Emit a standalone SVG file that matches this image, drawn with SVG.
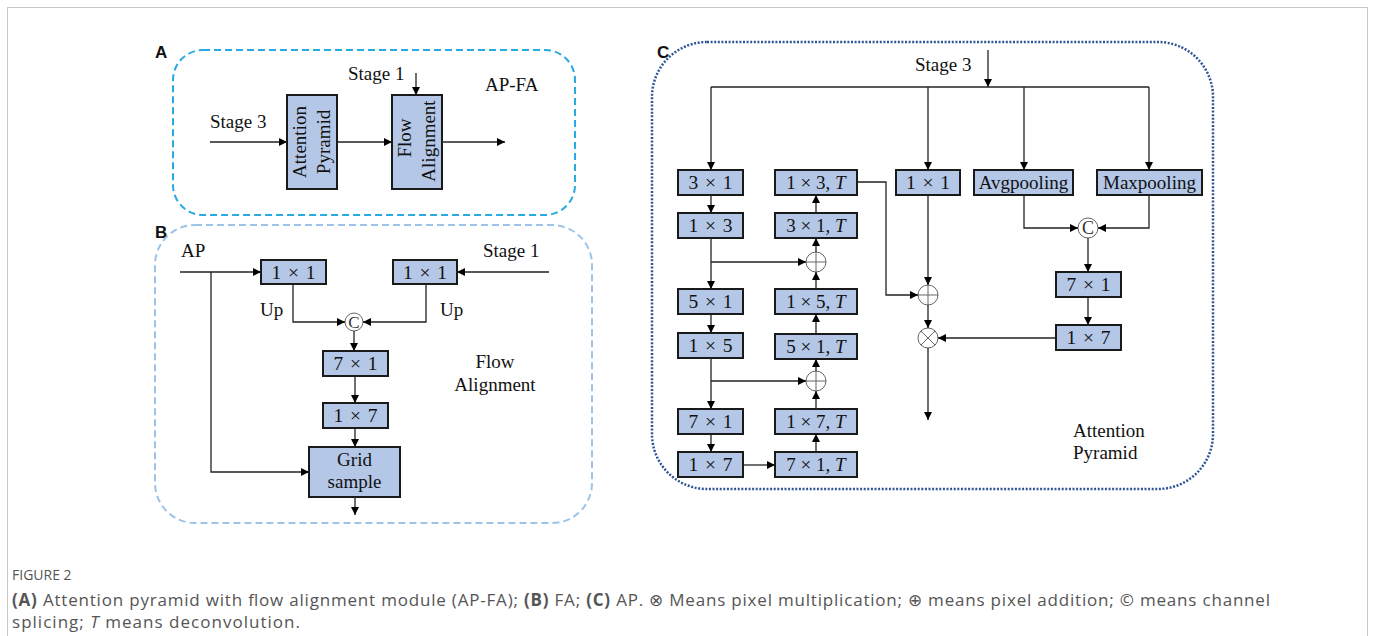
<svg xmlns="http://www.w3.org/2000/svg" width="1375" height="636" viewBox="0 0 1375 636">
<defs>
<marker id="ah" viewBox="0 0 10 10" refX="10" refY="5" markerWidth="9" markerHeight="8" markerUnits="userSpaceOnUse" orient="auto"><path d="M0,0L10,5L0,10z" fill="#000"/></marker>
<style>
.box{fill:#b4c7e7;stroke:#1a1a1a;stroke-width:2}
.ln{fill:none;stroke:#222;stroke-width:1.3}
.ar{fill:none;stroke:#222;stroke-width:1.3;marker-end:url(#ah)}
.t{font-family:"Liberation Serif",serif;font-size:19px;fill:#111}
.bt{font-family:"Liberation Serif",serif;font-size:19.5px;word-spacing:2px;fill:#111;text-anchor:middle}
.tt{font-family:"Liberation Serif",serif;font-size:19px;fill:#111;text-anchor:middle}
.op{fill:#fff;stroke:#666;stroke-width:1}
.lab{font-family:"Liberation Sans",Arial,sans-serif;font-weight:bold;font-size:17px;fill:#111}
.cap{font-family:"Open Sans",sans-serif;fill:#555}
</style>
</defs>
<rect x="0" y="0" width="1375" height="636" fill="#fff"/>
<rect x="7.5" y="7.5" width="1360" height="660" fill="none" stroke="#c8c8c8" stroke-width="1"/>

<!-- Panel A -->
<g id="panelA">
<text class="lab" x="155" y="58">A</text>
<rect x="173" y="50" width="402" height="165" rx="30" fill="none" stroke="#27a9e1" stroke-width="2" stroke-dasharray="7 4"/>
<text class="t" x="210" y="128">Stage 3</text>
<text class="t" x="348" y="80">Stage 1</text>
<text class="t" x="485" y="91">AP-FA</text>
</g>
<g id="A_attention_pyramid">
<rect class="box" x="287" y="95" width="50" height="94"/>
<text class="t" text-anchor="middle" transform="translate(306,142) rotate(-90)">Attention</text>
<text class="t" text-anchor="middle" transform="translate(330,142) rotate(-90)">Pyramid</text>
</g>
<g id="A_flow_alignment">
<rect class="box" x="392" y="95" width="50" height="94"/>
<text class="t" text-anchor="middle" transform="translate(411,138) rotate(-90)">Flow</text>
<text class="t" text-anchor="middle" transform="translate(435,141) rotate(-90)">Alignment</text>
</g>

<!-- Panel B -->
<g id="panelB">
<text class="lab" x="155" y="238">B</text>
<rect x="155" y="225" width="437" height="298" rx="40" fill="none" stroke="#9dc3e6" stroke-width="2" stroke-dasharray="7 4"/>
<text class="t" x="181" y="257">AP</text>
<text class="t" x="483" y="257">Stage 1</text>
<text class="t" x="260" y="316">Up</text>
<text class="t" x="440" y="316">Up</text>
<text class="t" x="495" y="368" text-anchor="middle">Flow</text>
<text class="t" x="495" y="391" text-anchor="middle">Alignment</text>
</g>
<g id="B_conv1x1_left"><rect class="box" x="261" y="260" width="65" height="24"/><text class="bt" x="293.5" y="279">1 × 1</text></g>
<g id="B_conv1x1_right"><rect class="box" x="393" y="260" width="64" height="24"/><text class="bt" x="425" y="279">1 × 1</text></g>
<g id="B_concat"><circle class="op" cx="354" cy="322" r="9"/><text x="354" y="328" text-anchor="middle" font-family="Liberation Serif,serif" font-size="17" fill="#333">C</text></g>
<g id="B_conv7x1"><rect class="box" x="323" y="351" width="65" height="25"/><text class="bt" x="355.5" y="370">7 × 1</text></g>
<g id="B_conv1x7"><rect class="box" x="323" y="403" width="65" height="25"/><text class="bt" x="355.5" y="422">1 × 7</text></g>
<g id="B_grid_sample"><rect class="box" x="309" y="447" width="91" height="50"/><text class="t" x="354.5" y="466" text-anchor="middle">Grid</text><text class="t" x="354.5" y="488" text-anchor="middle">sample</text></g>

<!-- Panel C -->
<g id="panelC">
<text class="lab" x="657" y="58">C</text>
<rect x="652" y="42" width="561" height="447" rx="55" fill="none" stroke="#2f5597" stroke-width="2.5" stroke-dasharray="2 1.6"/>
<text class="t" x="915" y="71">Stage 3</text>
<text class="t" x="1073" y="437">Attention</text>
<text class="t" x="1073" y="459">Pyramid</text>
</g>
<g id="C_3x1"><rect class="box" x="678" y="170" width="65" height="25"/><text class="bt" x="710.5" y="189">3 × 1</text></g>
<g id="C_1x3"><rect class="box" x="678" y="213" width="65" height="25"/><text class="bt" x="710.5" y="232">1 × 3</text></g>
<g id="C_5x1"><rect class="box" x="678" y="289" width="65" height="25"/><text class="bt" x="710.5" y="308">5 × 1</text></g>
<g id="C_1x5"><rect class="box" x="678" y="333" width="65" height="25"/><text class="bt" x="710.5" y="352">1 × 5</text></g>
<g id="C_7x1"><rect class="box" x="678" y="409" width="65" height="25"/><text class="bt" x="710.5" y="428">7 × 1</text></g>
<g id="C_1x7"><rect class="box" x="678" y="452" width="65" height="25"/><text class="bt" x="710.5" y="471">1 × 7</text></g>
<g id="C_1x3T"><rect class="box" x="775" y="170" width="82" height="25"/><text class="tt" x="816" y="189">1 × 3, <tspan font-style="italic">T</tspan></text></g>
<g id="C_3x1T"><rect class="box" x="775" y="213" width="82" height="25"/><text class="tt" x="816" y="232">3 × 1, <tspan font-style="italic">T</tspan></text></g>
<g id="C_1x5T"><rect class="box" x="775" y="289" width="82" height="25"/><text class="tt" x="816" y="308">1 × 5, <tspan font-style="italic">T</tspan></text></g>
<g id="C_5x1T"><rect class="box" x="775" y="334" width="82" height="25"/><text class="tt" x="816" y="353">5 × 1, <tspan font-style="italic">T</tspan></text></g>
<g id="C_1x7T"><rect class="box" x="775" y="409" width="82" height="25"/><text class="tt" x="816" y="428">1 × 7, <tspan font-style="italic">T</tspan></text></g>
<g id="C_7x1T"><rect class="box" x="775" y="452" width="82" height="25"/><text class="tt" x="816" y="471">7 × 1, <tspan font-style="italic">T</tspan></text></g>
<g id="C_plus1"><circle class="op" cx="816" cy="262" r="10"/><path class="op" d="M806,262H826M816,252V272"/></g>
<g id="C_plus2"><circle class="op" cx="816" cy="381" r="10"/><path class="op" d="M806,381H826M816,371V391"/></g>
<g id="C_1x1"><rect class="box" x="896" y="170" width="64" height="25"/><text class="bt" x="928" y="189">1 × 1</text></g>
<g id="C_plus3"><circle class="op" cx="928" cy="295" r="10"/><path class="op" d="M918,295H938M928,285V305"/></g>
<g id="C_times"><circle class="op" cx="928" cy="338" r="10"/><path class="op" d="M920.9,330.9L935.1,345.1M935.1,330.9L920.9,345.1"/></g>
<g id="C_avgpool"><rect class="box" x="974" y="170" width="99" height="25"/><text class="t" x="1023.5" y="189" text-anchor="middle">Avgpooling</text></g>
<g id="C_maxpool"><rect class="box" x="1097" y="170" width="105" height="25"/><text class="t" x="1149.5" y="189" text-anchor="middle" font-size="19.5">Maxpooling</text></g>
<g id="C_concat"><circle class="op" cx="1088" cy="228" r="10"/><text x="1088" y="234" text-anchor="middle" font-family="Liberation Serif,serif" font-size="18" fill="#333">C</text></g>
<g id="C_7x1b"><rect class="box" x="1056" y="272" width="65" height="25"/><text class="bt" x="1088.5" y="291">7 × 1</text></g>
<g id="C_1x7b"><rect class="box" x="1056" y="325" width="65" height="25"/><text class="bt" x="1088.5" y="344">1 × 7</text></g>

<g id="connectors">
<!-- A -->
<path class="ar" d="M210,142H287"/>
<path class="ar" d="M337,142H392"/>
<path class="ar" d="M442,142H505"/>
<path class="ar" d="M416,73V95"/>
<!-- B -->
<path class="ar" d="M180,272H261"/>
<path class="ar" d="M549,272H457"/>
<path class="ar" d="M211,272V472H309"/>
<path class="ar" d="M293,284V322H345"/>
<path class="ar" d="M426,284V322H363"/>
<path class="ar" d="M354,331V351"/>
<path class="ar" d="M355,376V403"/>
<path class="ar" d="M355,428V447"/>
<path class="ar" d="M355,497V515"/>
<!-- C -->
<path class="ar" d="M988,50V87"/>
<path class="ln" d="M711,87H1149"/>
<path class="ar" d="M711,87V170"/>
<path class="ar" d="M928,87V170"/>
<path class="ar" d="M1024,87V170"/>
<path class="ar" d="M1149,87V170"/>
<path class="ar" d="M711,195V213"/>
<path class="ar" d="M711,238V289"/>
<path class="ar" d="M711,262H806"/>
<path class="ar" d="M711,314V333"/>
<path class="ar" d="M711,358V409"/>
<path class="ar" d="M711,381H806"/>
<path class="ar" d="M711,434V452"/>
<path class="ar" d="M743,465H775"/>
<path class="ar" d="M816,452V434"/>
<path class="ar" d="M816,409V391"/>
<path class="ar" d="M816,371V359"/>
<path class="ar" d="M816,334V314"/>
<path class="ar" d="M816,289V272"/>
<path class="ar" d="M816,252V238"/>
<path class="ar" d="M816,213V195"/>
<path class="ar" d="M857,182H886V295H918"/>
<path class="ar" d="M928,195V285"/>
<path class="ar" d="M928,305V328"/>
<path class="ar" d="M928,348V420"/>
<path class="ar" d="M1024,195V228H1078"/>
<path class="ar" d="M1149,195V228H1098"/>
<path class="ar" d="M1088,238V272"/>
<path class="ar" d="M1088,297V325"/>
<path class="ar" d="M1056,338H938"/>
</g>

<g id="caption">
<text class="cap" x="12" y="580" font-size="14">FIGURE 2</text>
<text class="cap" x="12" y="606" font-size="17" textLength="1258" lengthAdjust="spacing"><tspan font-weight="bold">(A)</tspan> Attention pyramid with flow alignment module (AP-FA); <tspan font-weight="bold">(B)</tspan> FA; <tspan font-weight="bold">(C)</tspan> AP. ⊗ Means pixel multiplication; ⊕ means pixel addition; © means channel</text>
<text class="cap" x="12" y="628" font-size="17" textLength="288" lengthAdjust="spacing">splicing; <tspan font-style="italic">T</tspan> means deconvolution.</text>
</g>
</svg>
